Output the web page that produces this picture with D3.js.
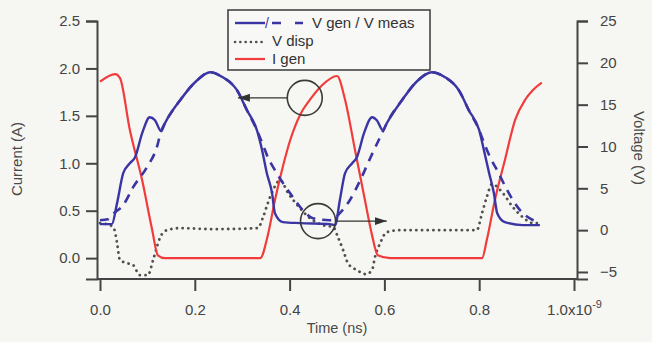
<!DOCTYPE html>
<html>
<head>
<meta charset="utf-8">
<script src="https://cdn.jsdelivr.net/npm/d3@7"></script>
<style>
  body { margin: 0; background: #f6f7f3; }
  svg { display: block; font-family: "Liberation Sans", Arial, sans-serif; }
</style>
</head>
<body>
<div id="viz"></div>
<script>
const width = 652;
const height = 342;

// time in ns, voltages in V (right axis), current in A (left axis)
const vGen = [
  [0, 0.72], [0.025, 0.72], [0.036, 3.23], [0.049, 6.81], [0.063, 8.0], [0.074, 8.72],
  [0.089, 11.59], [0.105, 13.5], [0.116, 13.14], [0.129, 11.83], [0.137, 12.78],
  [0.169, 15.53], [0.205, 17.92], [0.232, 18.88], [0.259, 18.28], [0.289, 16.73],
  [0.31, 14.34], [0.331, 11.95], [0.342, 9.56], [0.352, 6.81], [0.363, 4.42],
  [0.369, 2.03], [0.386, 0.96], [0.422, 0.84], [0.485, 0.72], [0.496, 0.6],
  [0.506, 3.58], [0.517, 6.81], [0.532, 8.0], [0.542, 8.72], [0.557, 11.59],
  [0.574, 13.5], [0.584, 13.14], [0.597, 11.95], [0.605, 12.78], [0.637, 15.53],
  [0.671, 17.92], [0.7, 18.88], [0.728, 18.28], [0.757, 16.73], [0.778, 14.34],
  [0.8, 11.95], [0.81, 9.56], [0.821, 6.81], [0.831, 4.42], [0.838, 2.03],
  [0.854, 0.96], [0.892, 0.6], [0.928, 0.6]
];

const vMeas = [
  [0, 1.19], [0.017, 1.31], [0.027, 1.91], [0.049, 2.99], [0.07, 5.14], [0.099, 7.53],
  [0.12, 9.92], [0.129, 11.83], [0.137, 12.78], [0.169, 15.53], [0.205, 17.92],
  [0.232, 18.88], [0.259, 18.28], [0.289, 16.73], [0.31, 14.34], [0.331, 11.95],
  [0.344, 10.16], [0.354, 8.72], [0.369, 7.17], [0.386, 5.62], [0.407, 3.94],
  [0.428, 2.39], [0.449, 1.43], [0.485, 1.19], [0.506, 2.03], [0.527, 3.58],
  [0.549, 5.97], [0.57, 8.6], [0.597, 11.83], [0.605, 12.78], [0.637, 15.53],
  [0.671, 17.92], [0.7, 18.88], [0.728, 18.28], [0.757, 16.73], [0.778, 14.34],
  [0.8, 11.95], [0.812, 10.16], [0.823, 8.72], [0.84, 6.93], [0.859, 4.78],
  [0.886, 2.39], [0.914, 1.19], [0.928, 0.96]
];

const vDisp = [
  [0, 0.84], [0.021, 0.6], [0.03, 0.12], [0.036, -1.55], [0.042, -3.58], [0.057, -3.94],
  [0.07, -4.18], [0.084, -5.38], [0.101, -5.38], [0.112, -3.58], [0.12, -2.03],
  [0.127, -0.84], [0.141, 0.0], [0.169, 0.24], [0.238, 0.12], [0.333, 0.24],
  [0.344, 1.55], [0.354, 3.23], [0.365, 4.78], [0.38, 5.97], [0.397, 4.42],
  [0.422, 2.63], [0.443, 1.43], [0.47, 0.6], [0.492, 0.36], [0.502, -0.84],
  [0.513, -2.39], [0.523, -3.94], [0.542, -4.78], [0.561, -5.26], [0.574, -4.78],
  [0.58, -3.23], [0.591, -1.55], [0.605, -0.24], [0.633, 0.0], [0.795, 0.0],
  [0.806, 2.03], [0.816, 3.94], [0.827, 5.5], [0.85, 4.42], [0.871, 2.75],
  [0.892, 1.55], [0.913, 0.84], [0.932, 0.84]
];

const iGen = [
  [0, 1.86], [0.032, 1.94], [0.042, 1.9], [0.063, 1.35], [0.089, 0.82], [0.11, 0.3],
  [0.122, 0.03], [0.137, 0.0], [0.338, 0.0], [0.354, 0.24], [0.369, 0.61],
  [0.384, 0.93], [0.401, 1.24], [0.422, 1.51], [0.443, 1.67], [0.468, 1.82],
  [0.5, 1.92], [0.517, 1.67], [0.538, 1.14], [0.559, 0.61], [0.574, 0.24],
  [0.586, 0.03], [0.612, 0.0], [0.806, 0.0], [0.816, 0.19], [0.833, 0.61],
  [0.854, 1.03], [0.876, 1.46], [0.897, 1.67], [0.913, 1.77], [0.932, 1.85]
];

const timeTicks = [0, 0.2, 0.4, 0.6, 0.8, 1.0];
const currentTicks = [0, 0.5, 1.0, 1.5, 2.0, 2.5];
const voltTicks = [-5, 0, 5, 10, 15, 20, 25];

// circled regions with arrows pointing to the axis they belong to
const callouts = [
  { t: 0.432, y: 1.69, axis: 'left', toT: 0.291 },
  { t: 0.46, y: 1.08, axis: 'right', toT: 0.605 }
];

const blue = '#3b35a3';
const red = '#f23b3b';
const grey = '#505050';
const ink = '#444';

const x = d3.scaleLinear().domain([0, 1]).range([100, 574]);
const yI = d3.scaleLinear().domain([-0.22, 2.5]).range([279, 21]);
const yV = d3.scaleLinear().domain([-5.84, 25]).range([279, 21]);

const svg = d3.select('#viz')
  .append('svg')
    .attr('width', width)
    .attr('height', height);

svg.append('rect')
  .attr('width', width)
  .attr('height', height)
  .attr('fill', '#f6f7f3');

const defs = svg.append('defs');
defs.append('marker')
    .attr('id', 'head')
    .attr('viewBox', '0 0 12 8')
    .attr('refX', 12)
    .attr('refY', 4)
    .attr('markerWidth', 12)
    .attr('markerHeight', 8)
    .attr('markerUnits', 'userSpaceOnUse')
    .attr('orient', 'auto')
  .append('path')
    .attr('d', 'M0,0L12,4L0,8Z')
    .attr('fill', '#333');

// frame: bottom line between the two axes
svg.append('line')
  .attr('x1', 97).attr('x2', 577)
  .attr('y1', 279).attr('y2', 279)
  .attr('stroke', ink).attr('stroke-width', 2);

// left axis
const axisL = svg.append('g')
  .attr('transform', 'translate(97,0)')
  .call(d3.axisLeft(yI).tickValues(currentTicks).tickFormat(d3.format('.1f')).tickSizeOuter(0).tickSize(11).tickPadding(6));
// right axis
const axisR = svg.append('g')
  .attr('transform', 'translate(577,0)')
  .call(d3.axisRight(yV).tickValues(voltTicks).tickFormat(d3.format('d')).tickSizeOuter(0).tickSize(11).tickPadding(12));
// bottom axis
const axisB = svg.append('g')
  .attr('transform', 'translate(0,279)')
  .call(d3.axisBottom(x).tickValues(timeTicks).tickFormat(d3.format('.1f')).tickSizeOuter(0).tickSize(12).tickPadding(13));
axisB.select('.domain').remove();

[axisL, axisR, axisB].forEach(g => {
  g.selectAll('.domain').attr('stroke', ink).attr('stroke-width', 2);
  g.selectAll('.tick line').attr('stroke', ink).attr('stroke-width', 2);
  g.selectAll('.tick text')
    .attr('fill', ink)
    .style('font-size', '15px')
    .style('font-family', '"Liberation Sans", Arial, sans-serif');
});

// last time tick uses exponent notation
axisB.selectAll('.tick text')
  .filter(d => d === 1)
  .text('1.0x10')
  .append('tspan')
    .attr('dy', '-0.6em')
    .style('font-size', '11px')
    .text('-9');

// axis titles
svg.append('text')
  .attr('transform', `translate(22,${(yI.range()[0] + yI.range()[1]) / 2 + 9}) rotate(-90)`)
  .attr('text-anchor', 'middle')
  .attr('fill', '#4a4a4a')
  .style('font-size', '15px')
  .text('Current (A)');
svg.append('text')
  .attr('transform', `translate(634,${(yV.range()[0] + yV.range()[1]) / 2 - 2}) rotate(90)`)
  .attr('text-anchor', 'middle')
  .attr('fill', '#4a4a4a')
  .style('font-size', '15px')
  .text('Voltage (V)');
svg.append('text')
  .attr('x', (x.range()[0] + x.range()[1]) / 2)
  .attr('y', 333)
  .attr('text-anchor', 'middle')
  .attr('fill', '#4a4a4a')
  .style('font-size', '14.5px')
  .text('Time (ns)');

// series
const lineV = d3.line().x(d => x(d[0])).y(d => yV(d[1])).curve(d3.curveMonotoneX);
const lineI = d3.line().x(d => x(d[0])).y(d => yI(d[1])).curve(d3.curveMonotoneX);

const plot = svg.append('g').attr('fill', 'none');
plot.append('path')
  .attr('d', lineV(vDisp))
  .attr('stroke', grey)
  .attr('stroke-width', 2.8)
  .attr('stroke-linecap', 'round')
  .attr('stroke-dasharray', '0.1 5.6');
plot.append('path')
  .attr('d', lineI(iGen))
  .attr('stroke', red)
  .attr('stroke-width', 2.2);
plot.append('path')
  .attr('d', lineV(vMeas))
  .attr('stroke', blue)
  .attr('stroke-width', 2.6)
  .attr('stroke-dasharray', '9 7');
plot.append('path')
  .attr('d', lineV(vGen))
  .attr('stroke', blue)
  .attr('stroke-width', 2.4);

// callouts
const r = 17.5;
callouts.forEach(c => {
  const scaleY = c.axis === 'left' ? yI : yV;
  const cx = x(c.t);
  const cy = scaleY(c.y);
  const dir = c.axis === 'left' ? -1 : 1;
  svg.append('circle')
    .attr('cx', cx).attr('cy', cy).attr('r', r)
    .attr('fill', 'none')
    .attr('stroke', '#3a3a3a')
    .attr('stroke-width', 1.6);
  svg.append('line')
    .attr('x1', cx + dir * r).attr('x2', x(c.toT))
    .attr('y1', cy).attr('y2', cy)
    .attr('stroke', '#333')
    .attr('stroke-width', 1.4)
    .attr('marker-end', 'url(#head)');
});

// legend
const legend = svg.append('g');
legend.append('rect')
  .attr('x', 228).attr('y', 10)
  .attr('width', 202).attr('height', 60)
  .attr('fill', '#f8f8f6')
  .attr('stroke', ink)
  .attr('stroke-width', 1.6);

legend.append('line')
  .attr('x1', 235).attr('x2', 265).attr('y1', 23).attr('y2', 23)
  .attr('stroke', blue).attr('stroke-width', 2.4);
legend.append('text')
  .attr('x', 265).attr('y', 28)
  .attr('fill', blue)
  .style('font-size', '14px')
  .text('/');
legend.append('line')
  .attr('x1', 272).attr('x2', 303).attr('y1', 23).attr('y2', 23)
  .attr('stroke', blue).attr('stroke-width', 2.4)
  .attr('stroke-dasharray', '9 14');
legend.append('line')
  .attr('x1', 235).attr('x2', 265).attr('y1', 42).attr('y2', 42)
  .attr('stroke', grey).attr('stroke-width', 2.6)
  .attr('stroke-linecap', 'round')
  .attr('stroke-dasharray', '0.1 5.2');
legend.append('line')
  .attr('x1', 235).attr('x2', 265).attr('y1', 59).attr('y2', 59)
  .attr('stroke', red).attr('stroke-width', 2.2);

const legendText = [
  { label: 'V gen / V meas', x: 312, y: 28 },
  { label: 'V disp', x: 272, y: 46 },
  { label: 'I gen', x: 272, y: 64 }
];
legend.selectAll('text.lbl')
  .data(legendText)
  .join('text')
    .attr('class', 'lbl')
    .attr('x', d => d.x)
    .attr('y', d => d.y)
    .attr('fill', '#333')
    .style('font-size', '15px')
    .text(d => d.label);
</script>
</body>
</html>
